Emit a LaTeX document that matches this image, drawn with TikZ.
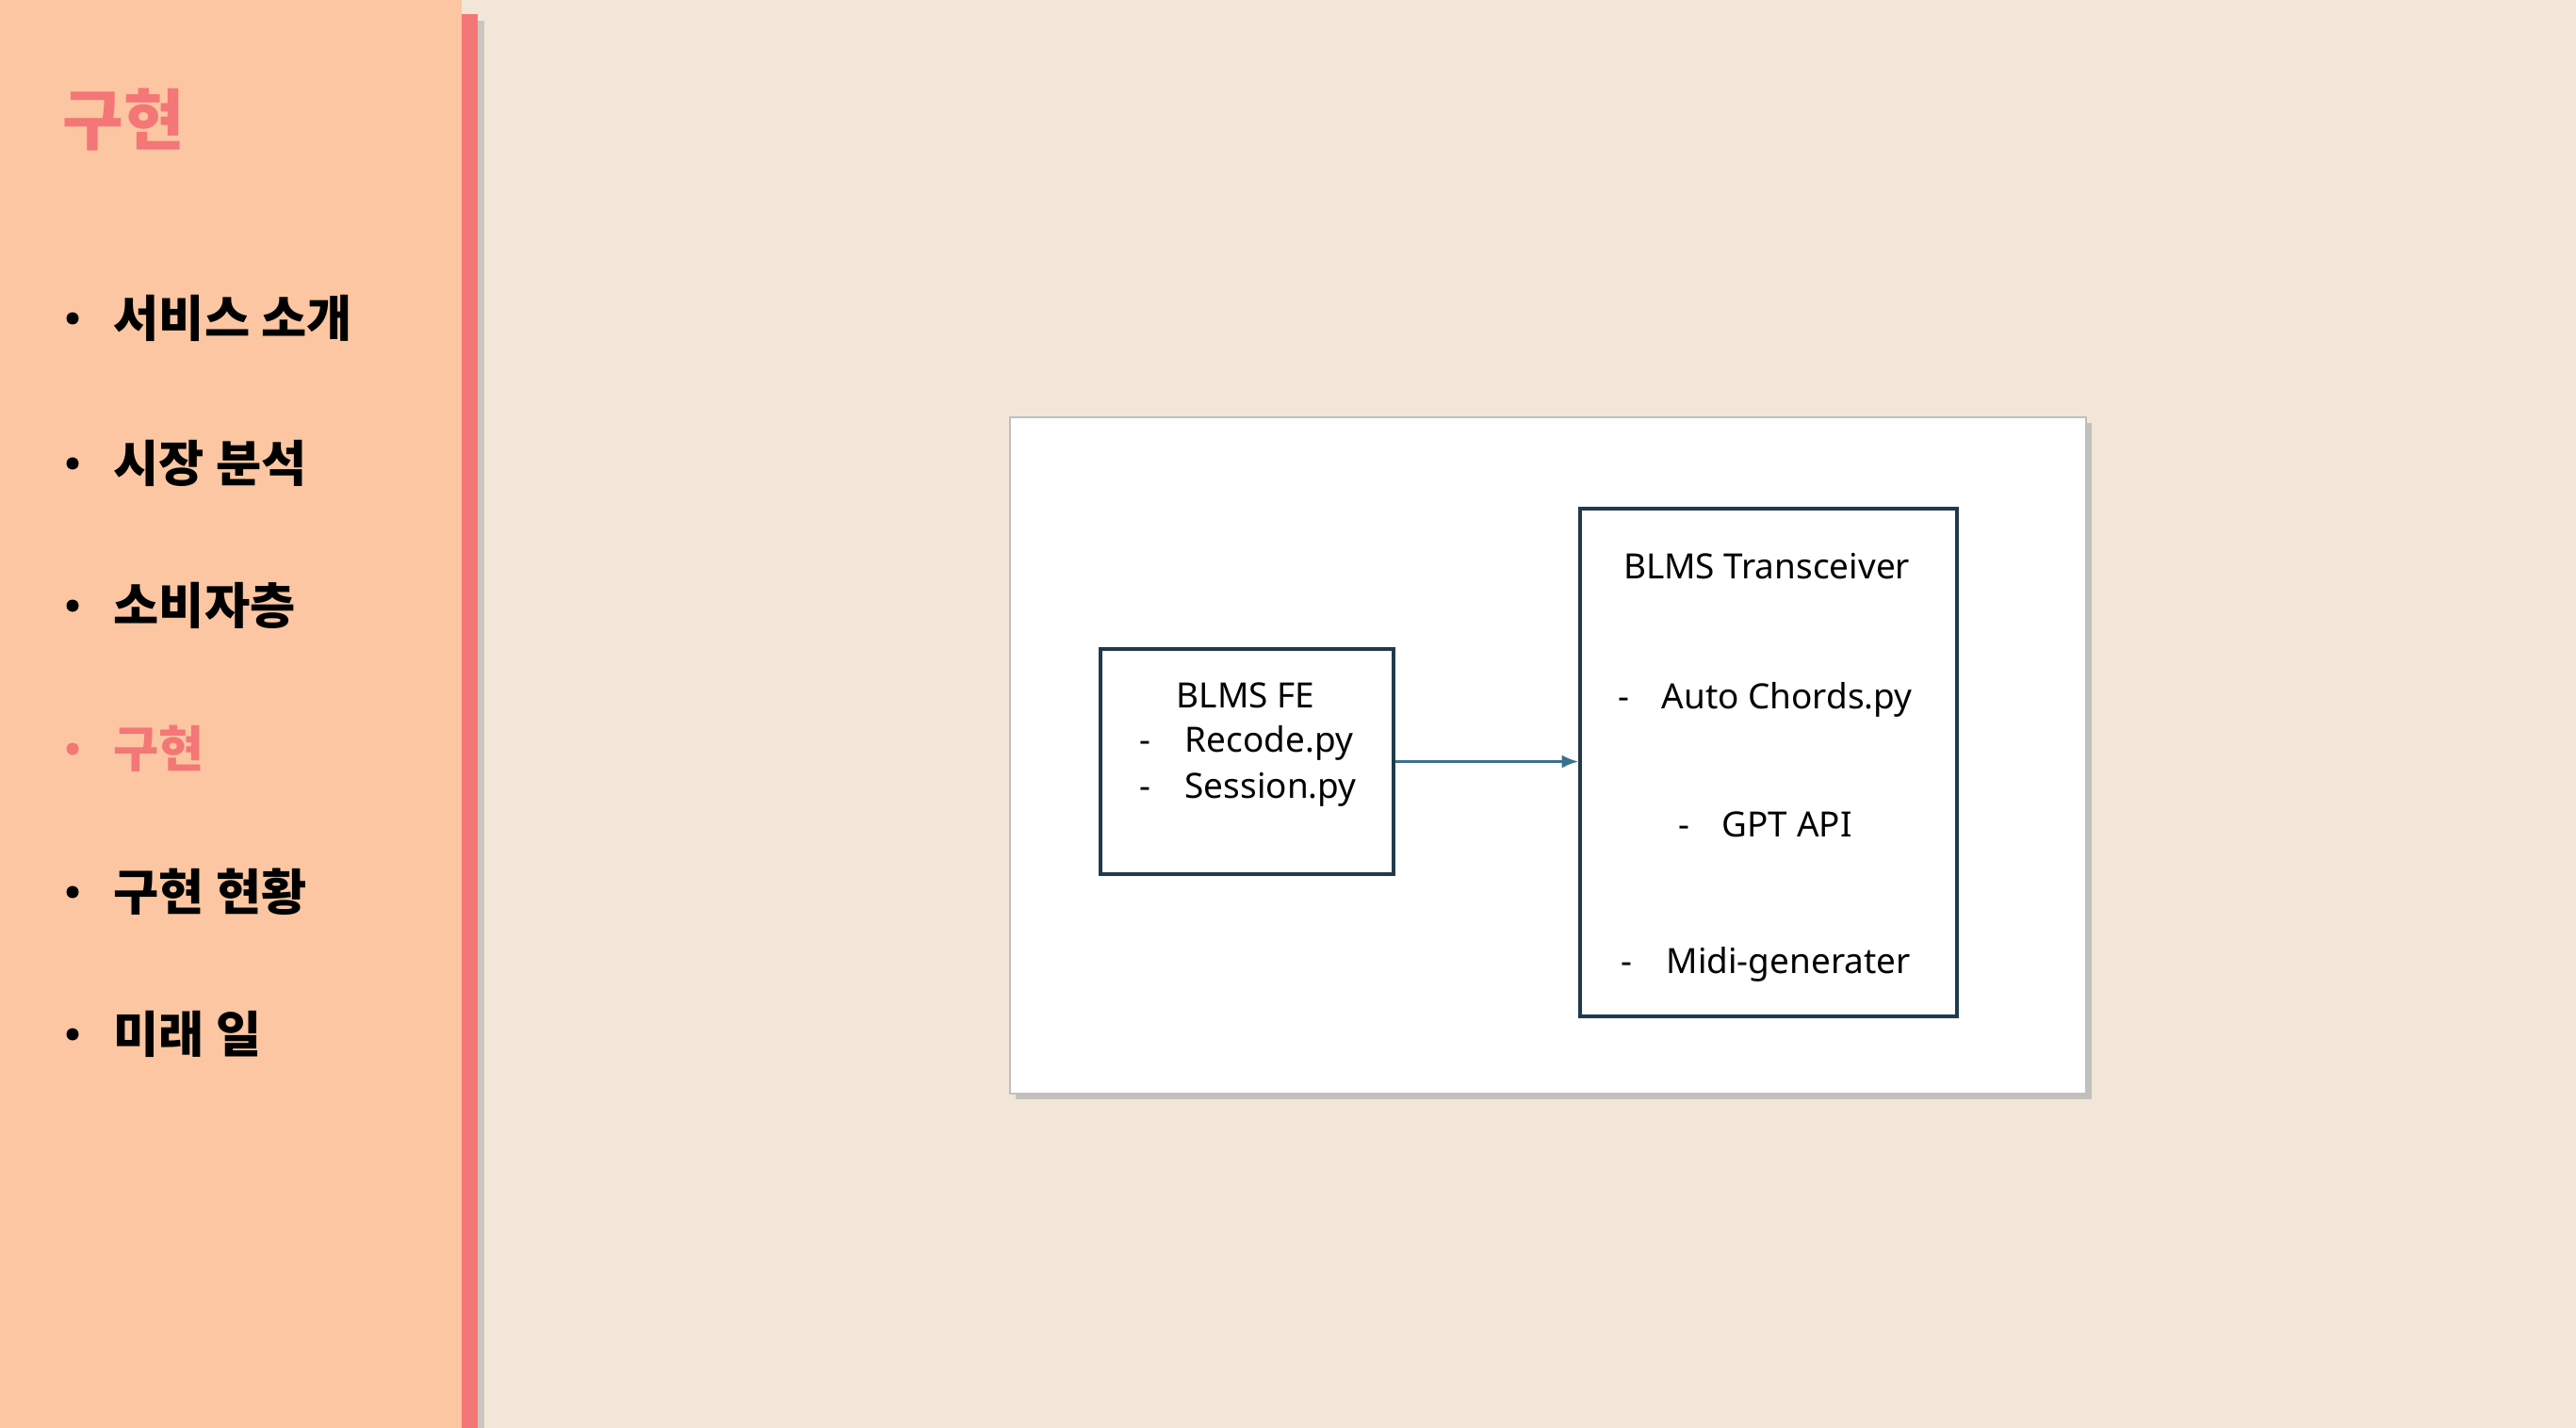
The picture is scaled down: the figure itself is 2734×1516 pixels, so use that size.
\documentclass[tikz,border=0pt]{standalone}
\usepackage{fontspec}
\setmainfont{Noto Sans}
\newfontfamily\kofont{Noto Sans CJK KR}
\usetikzlibrary{positioning,arrows.meta}

\definecolor{pagebg}{HTML}{F2E6D8}
\definecolor{sidebg}{HTML}{FBC6A1}
\definecolor{accent}{HTML}{F47676}
\definecolor{boxline}{HTML}{1F3A4D}
\definecolor{arrowblue}{HTML}{3A6F92}

\tikzset{
  menu/.style={font=\kofont\bfseries\fontsize{14.9}{16}\selectfont, anchor=west, inner sep=0pt},
  blk/.style={draw=boxline, line width=1pt, fill=white, inner sep=0pt},
  txt/.style={font=\fontsize{10.5}{12}\selectfont, inner sep=0pt},
}

\begin{document}
\begin{tikzpicture}[x=0.01cm,y=-0.01cm]
  \useasboundingbox (0,0) rectangle (2734,1516);
  \fill[pagebg] (0,0) rectangle (2734,1516);

  % sidebar
  \fill[sidebg] (0,0) rectangle (490,1516);
  \fill[black!30, opacity=0.6] (507,22) rectangle (514,1516);
  \fill[accent] (490,15) rectangle (507,1516);
  \node[menu, accent, font=\kofont\bfseries\fontsize{20}{22}\selectfont] (title) at (66,127) {구현};

  % menu items
  \foreach \y/\item/\col [count=\i] in {338/서비스 소개/black, 492/시장 분석/black,
      643/소비자층/black, 795/구현/accent, 947/구현 현황/black, 1098/미래 일/black} {
    \fill[\col] (77,\y) circle (6.5);
    \node[menu, text=\col] (m\i) at (120,\y) {\item};
  }

  % slide frame
  \fill[black!35, opacity=0.6] (1078,449) rectangle (2220,1167);
  \draw[black!25, fill=white, line width=0.8pt] (1072,443) rectangle (2214,1161);

  % blocks
  \node[blk, minimum width=3.11cm, minimum height=2.39cm] (fe) at (1323.5,808.5) {};
  \node[blk, minimum width=4.00cm, minimum height=5.39cm] (trx) at (1877,809.5) {};

  \node[txt, anchor=base] (feTitle) at (1322,751) {BLMS FE};
  \foreach \y/\item [count=\i] in {798/Recode.py, 847/Session.py} {
    \node[txt, anchor=base] (feDash\i) at (1215,\y) {-};
    \node[txt, anchor=base west] (feItem\i) at (1257,\y) {\item};
  }

  \node[txt, anchor=base] (trxTitle) at (1875,614) {BLMS Transceiver};
  \foreach \y/\dx/\tx/\item [count=\i] in {752/1723/1763/Auto Chords.py,
      888/1787/1827/GPT API, 1033/1726/1768/Midi-generater} {
    \node[txt, anchor=base] (trxDash\i) at (\dx,\y) {-};
    \node[txt, anchor=base west] (trxItem\i) at (\tx,\y) {\item};
  }

  % connector
  \draw[arrowblue, line width=0.75pt, -{Latex[length=5pt,width=4pt]}] (fe.east) -- (fe.east -| trx.west);
\end{tikzpicture}
\end{document}
